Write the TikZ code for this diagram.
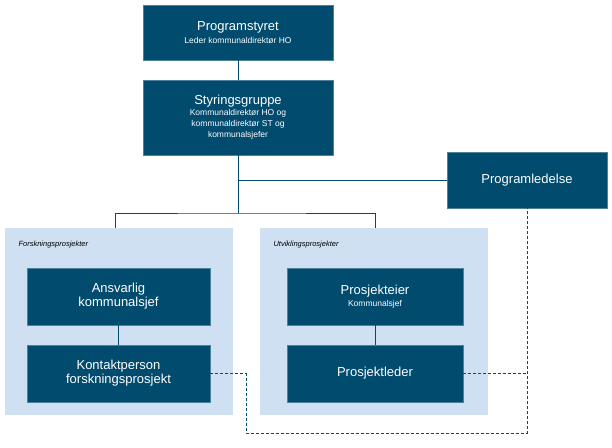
\documentclass[tikz,border=0pt]{standalone}
\usepackage{fontspec}
\setmainfont{Liberation Sans}
\usetikzlibrary{positioning}
\definecolor{boxblue}{HTML}{004B6E}
\definecolor{panelblue}{HTML}{CFE0F2}
\newcommand{\subtxt}{\fontsize{8.5}{10}\selectfont}
\tikzset{
  unit/.style={fill=boxblue, draw=boxblue!70!white, text=white, align=center, font=\fontsize{13}{14}\selectfont},
  link/.style={draw=boxblue, line width=0.6pt},
  dotted link/.style={draw=boxblue, line width=0.8pt, dash pattern=on 3pt off 2pt}
}
\begin{document}
\begin{tikzpicture}[x=1pt, y=-1pt]
    \useasboundingbox (0,0) rectangle (612,447);
    \fill[panelblue] (5,228) rectangle (233,415);
    \fill[panelblue] (260,228) rectangle (488,415);
    \node[anchor=north west, font=\itshape\fontsize{7.5}{9}\selectfont] (forsk) at (15,238) {Forskningsprosjekter};
    \node[anchor=north west, font=\itshape\fontsize{7.5}{9}\selectfont] (utvikl) at (270,238) {Utviklingsprosjekter};

    \node[unit, minimum width=190pt, minimum height=55pt] (styret) at (238,32.5)
        {Programstyret\\[-1pt]{\subtxt Leder kommunaldirektør HO}};
    \node[unit, minimum width=190pt, minimum height=75pt] (gruppe) at (238,117.5)
        {Styringsgruppe\\[-3pt]{\subtxt Kommunaldirektør HO og}\\[-3pt]{\subtxt kommunaldirektør ST og}\\[-3pt]{\subtxt kommunalsjefer}};
    \node[unit, minimum width=160pt, minimum height=56pt] (ledelse) at (527,180) {Programledelse};

    \node[unit, minimum width=183pt, minimum height=57pt] (ansvarlig) at (118.5,296.5) {Ansvarlig\\kommunalsjef};
    \node[unit, minimum width=183pt, minimum height=57pt] (kontakt) at (118.5,373.5) {Kontaktperson\\forskningsprosjekt};
    \node[unit, minimum width=176pt, minimum height=57pt] (eier) at (375,296.5)
        {Prosjekteier\\[-2pt]{\subtxt Kommunalsjef}};
    \node[unit, minimum width=176pt, minimum height=57pt] (leder) at (375,373.5) {Prosjektleder};

    \coordinate (split) at (238,213);
    \coordinate (turn) at (246,433);
    \coordinate (leftpanel) at (115,228);
    \coordinate (rightpanel) at (375,228);
    \draw[link] (styret) -- (gruppe);
    \draw[link] (gruppe) -- (split);
    \draw[link] (gruppe.south |- ledelse) -- (ledelse);
    \draw[link] (leftpanel) |- (split) -| (rightpanel);
    \draw[link] (ansvarlig) -- (kontakt);
    \draw[link] (eier) -- (leder);

    \draw[dotted link] (kontakt.east) -| (turn) -| (ledelse.south);
    \draw[dotted link] (leder.east) -- (leder.east -| ledelse.south);
\end{tikzpicture}
\end{document}
